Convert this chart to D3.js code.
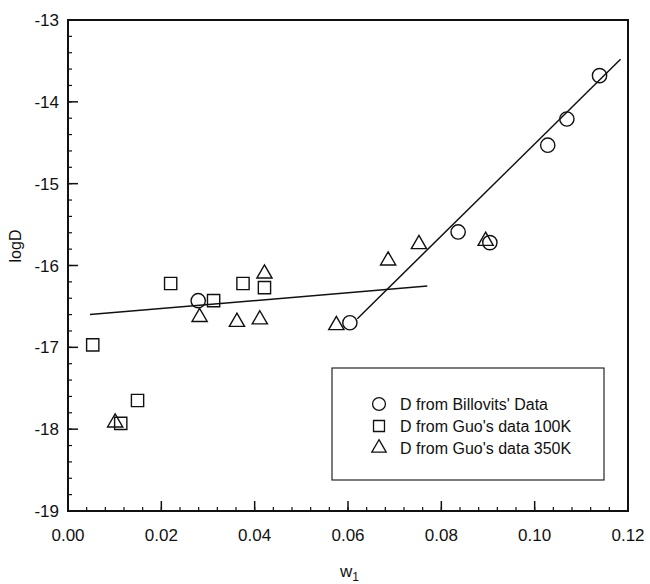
<!DOCTYPE html>
<html><head><meta charset="utf-8">
<script src="https://cdn.jsdelivr.net/npm/d3@7"></script>
<style>body{margin:0;background:#fff}text{font-family:"Liberation Sans",Arial,sans-serif;fill:#111}</style>
</head><body><svg id="c" width="650" height="584"></svg>
<script>
const billovitsX = [0.0279, 0.0604, 0.0836, 0.0904, 0.1028, 0.1069, 0.1139];
const billovitsY = [-16.43, -16.70, -15.59, -15.72, -14.53, -14.21, -13.68];
const guo100X = [0.0053, 0.0113, 0.0149, 0.0220, 0.0312, 0.0375, 0.0421];
const guo100Y = [-16.97, -17.93, -17.65, -16.22, -16.43, -16.22, -16.27];
const guo350X = [0.0101, 0.0282, 0.0362, 0.0411, 0.0421, 0.0575, 0.0686, 0.0752, 0.0895];
const guo350Y = [-17.92, -16.63, -16.69, -16.66, -16.10, -16.73, -15.94, -15.74, -15.70];
const fit1X = [0.0047, 0.077], fit1Y = [-16.60, -16.25];
const fit2X = [0.062, 0.1184], fit2Y = [-16.65, -13.48];
const xTicks = [0, 0.02, 0.04, 0.06, 0.08, 0.10, 0.12];
const yTicks = [-19, -18, -17, -16, -15, -14, -13];
const legendLabels = ["D from Billovits' Data", "D from Guo's data 100K", "D from Guo's data 350K"];

const svg = d3.select("#c");
const L = 68, R = 628, T = 20, B = 511;
const x = d3.scaleLinear().domain([0, 0.12]).range([L, R]);
const y = d3.scaleLinear().domain([-19, -13]).range([B, T]);
const ink = "#111";

// frame
svg.append("rect").attr("x", L).attr("y", T).attr("width", R - L).attr("height", B - T)
  .attr("fill", "none").attr("stroke", ink).attr("stroke-width", 2);

// x axis ticks (inward)
const xMinor = d3.range(0, 0.1201, 0.004);
svg.append("g").selectAll("line").data(xMinor).join("line")
  .attr("x1", d => x(d)).attr("x2", d => x(d)).attr("y1", B).attr("y2", B - 4)
  .attr("stroke", ink).attr("stroke-width", 1.2);
svg.append("g").selectAll("line").data(xTicks).join("line")
  .attr("x1", d => x(d)).attr("x2", d => x(d)).attr("y1", B).attr("y2", B - 10)
  .attr("stroke", ink).attr("stroke-width", 1.5);
svg.append("g").selectAll("text").data(xTicks).join("text")
  .attr("x", d => x(d)).attr("y", B + 30).attr("text-anchor", "middle")
  .attr("font-size", 17).text(d => d.toFixed(2));

// y axis ticks
const yMinor = d3.range(-19, -12.99, 0.2);
svg.append("g").selectAll("line").data(yMinor).join("line")
  .attr("x1", L).attr("x2", L + 4).attr("y1", d => y(d)).attr("y2", d => y(d))
  .attr("stroke", ink).attr("stroke-width", 1.2);
svg.append("g").selectAll("line").data(yTicks).join("line")
  .attr("x1", L).attr("x2", L + 10).attr("y1", d => y(d)).attr("y2", d => y(d))
  .attr("stroke", ink).attr("stroke-width", 1.5);
svg.append("g").selectAll("text").data(yTicks).join("text")
  .attr("x", L - 9).attr("y", d => y(d) + 6).attr("text-anchor", "end")
  .attr("font-size", 17).text(d => d);

// axis titles
svg.append("text").attr("x", 340).attr("y", 577).attr("font-size", 17)
  .text("w").append("tspan").attr("font-size", 12).attr("dy", 4).text("1");
svg.append("text").attr("transform", "translate(21,246) rotate(-90)")
  .attr("text-anchor", "middle").attr("font-size", 16).text("logD");

// fit lines
const line = d3.line().x(d => x(d[0])).y(d => y(d[1]));
[[fit1X, fit1Y], [fit2X, fit2Y]].forEach(([xs, ys]) => {
  svg.append("path").attr("d", line(xs.map((v, i) => [v, ys[i]])))
    .attr("fill", "none").attr("stroke", ink).attr("stroke-width", 1.5);
});

// symbols
const sym = {
  circle: d3.symbol().type(d3.symbolCircle).size(160),
  square: d3.symbol().type(d3.symbolSquare).size(150),
  triangle: d3.symbol().type(d3.symbolTriangle).size(100)
};
function plot(xs, ys, s) {
  svg.append("g").selectAll("path").data(xs.map((v, i) => [v, ys[i]])).join("path")
    .attr("transform", d => `translate(${x(d[0])},${y(d[1])})`)
    .attr("d", sym[s]()).attr("fill", "none").attr("stroke", ink).attr("stroke-width", 1.4);
}
plot(billovitsX, billovitsY, "circle");
plot(guo100X, guo100Y, "square");
plot(guo350X, guo350Y, "triangle");

// legend
svg.append("rect").attr("x", 332).attr("y", 368).attr("width", 272).attr("height", 112)
  .attr("fill", "#fff").attr("stroke", ink).attr("stroke-width", 1.1);
legendLabels.forEach((lab, i) => {
  const yy = 404 + i * 22;
  svg.append("path").attr("transform", `translate(379,${yy})`).attr("d", d3.symbol().type(
    [d3.symbolCircle, d3.symbolSquare, d3.symbolTriangle][i]).size([130, 120, 90][i])())
    .attr("fill", "none").attr("stroke", ink).attr("stroke-width", 1.3);
  svg.append("text").attr("x", 400).attr("y", yy + 6).attr("font-size", 16).text(lab);
});
</script></body></html>
